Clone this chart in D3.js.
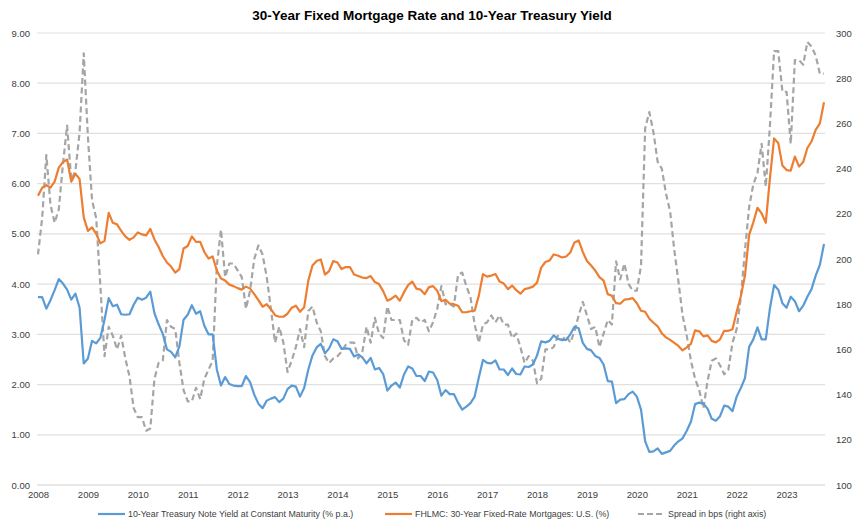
<!DOCTYPE html>
<html>
<head>
<meta charset="utf-8">
<script src="https://cdn.jsdelivr.net/npm/d3@7"></script>
<style>
  html, body { margin: 0; padding: 0; background: #fff; }
  text { font-family: "Liberation Sans", Arial, sans-serif; }
</style>
</head>
<body>
<svg id="chart" width="852" height="522"></svg>
<script>
// ---- Data (monthly, Jan 2008 – Oct 2023) ----
const startYear = 2008;
const yearLabels = ["2008","2009","2010","2011","2012","2013","2014","2015","2016","2017","2018","2019","2020","2021","2022","2023"];
const leftTicks = [0,1,2,3,4,5,6,7,8,9];
const rightTicks = [100,120,140,160,180,200,220,240,260,280,300];

const treasury10y = [
  3.74,3.74,3.51,3.68,3.88,4.10,4.01,3.89,3.69,3.81,3.53,2.42,
  2.52,2.87,2.82,2.93,3.29,3.72,3.56,3.59,3.40,3.39,3.40,3.59,
  3.73,3.69,3.73,3.85,3.42,3.20,3.01,2.70,2.65,2.54,2.76,3.29,
  3.39,3.58,3.41,3.46,3.17,3.00,3.00,2.30,1.98,2.15,2.01,1.98,
  1.97,1.97,2.17,2.05,1.80,1.62,1.53,1.68,1.72,1.75,1.65,1.72,
  1.91,1.98,1.96,1.76,1.93,2.30,2.58,2.74,2.81,2.62,2.72,2.90,
  2.86,2.71,2.72,2.71,2.56,2.60,2.54,2.42,2.53,2.30,2.33,2.21,
  1.88,1.98,2.04,1.94,2.20,2.36,2.32,2.17,2.17,2.07,2.26,2.24,
  2.09,1.78,1.89,1.81,1.81,1.64,1.50,1.56,1.63,1.76,2.14,2.49,
  2.43,2.42,2.48,2.30,2.30,2.19,2.32,2.21,2.20,2.36,2.35,2.40,
  2.58,2.86,2.84,2.87,2.98,2.91,2.89,2.89,3.00,3.15,3.12,2.83,
  2.71,2.68,2.57,2.53,2.40,2.07,2.06,1.63,1.70,1.71,1.81,1.86,
  1.76,1.50,0.87,0.66,0.67,0.73,0.62,0.65,0.68,0.79,0.87,0.93,
  1.08,1.26,1.61,1.64,1.62,1.52,1.32,1.28,1.37,1.58,1.56,1.47,
  1.76,1.93,2.13,2.75,2.90,3.14,2.90,2.90,3.52,3.98,3.89,3.62,
  3.53,3.75,3.66,3.46,3.57,3.75,3.90,4.17,4.38,4.80
];

const mortgage30y = [
  5.76,5.92,5.97,5.92,6.04,6.32,6.43,6.48,6.04,6.20,6.09,5.33,
  5.06,5.13,5.00,4.81,4.86,5.42,5.22,5.19,5.06,4.95,4.88,4.93,
  5.03,4.99,4.97,5.10,4.89,4.74,4.56,4.43,4.35,4.23,4.30,4.71,
  4.76,4.95,4.84,4.84,4.64,4.51,4.55,4.27,4.11,4.07,3.99,3.96,
  3.92,3.89,3.95,3.91,3.80,3.68,3.55,3.60,3.50,3.38,3.35,3.35,
  3.41,3.53,3.57,3.45,3.54,4.07,4.37,4.46,4.49,4.19,4.26,4.46,
  4.43,4.30,4.34,4.34,4.19,4.16,4.13,4.12,4.16,4.04,4.00,3.86,
  3.67,3.71,3.77,3.67,3.84,3.98,4.05,3.91,3.89,3.80,3.94,3.96,
  3.87,3.66,3.69,3.61,3.60,3.57,3.44,3.44,3.46,3.47,3.77,4.20,
  4.15,4.17,4.20,4.05,4.01,3.90,3.97,3.88,3.81,3.90,3.92,3.95,
  4.03,4.33,4.44,4.47,4.59,4.57,4.53,4.55,4.63,4.83,4.87,4.64,
  4.46,4.37,4.27,4.14,4.07,3.80,3.77,3.62,3.61,3.69,3.70,3.72,
  3.62,3.47,3.45,3.31,3.23,3.16,3.02,2.94,2.89,2.83,2.77,2.68,
  2.74,2.81,3.08,3.06,2.96,2.98,2.87,2.84,2.90,3.07,3.07,3.10,
  3.45,3.76,4.17,4.98,5.23,5.52,5.41,5.22,6.11,6.90,6.81,6.36,
  6.27,6.26,6.54,6.34,6.43,6.71,6.84,7.07,7.20,7.62
];

const spreadBps = [
  202,218,246,224,216,222,242,259,235,239,256,291,
  254,226,218,188,157,170,166,160,166,156,148,134,
  130,130,124,125,147,154,155,173,170,169,154,142,
  137,137,143,138,147,151,155,197,213,192,198,198,
  195,192,178,186,200,206,202,192,178,163,170,163,
  150,155,161,169,161,177,179,172,168,157,154,156,
  157,159,162,163,163,156,159,170,163,174,167,165,
  179,173,173,173,164,162,173,174,172,173,168,172,
  178,188,180,180,179,193,194,188,183,171,163,171,
  172,175,172,175,171,171,165,167,161,154,157,155,
  145,147,160,160,161,166,164,166,163,168,175,181,
  175,169,170,161,167,173,171,199,191,198,189,186,
  186,197,258,265,256,243,240,229,221,204,190,175,
  166,155,147,142,134,146,155,156,153,149,151,163,
  169,183,204,223,233,238,251,232,259,292,292,274,
  274,251,288,288,286,296,294,290,282,282
];

const seriesNames = [
  "10-Year Treasury Note Yield at Constant Maturity (% p.a.)",
  "FHLMC: 30-Year Fixed-Rate Mortgages: U.S. (%)",
  "Spread in bps (right axis)"
];
const colors = ["#5b9bd5", "#ed7d31", "#a5a5a5"];
const chartTitle = "30-Year Fixed Mortgage Rate and 10-Year Treasury Yield";

// ---- Layout ----
const svg = d3.select("#chart");
const W = 852, H = 522;
const plot = { left: 38, right: 824, top: 33, bottom: 485 };

const n = treasury10y.length;
const x = d3.scaleLinear().domain([0, n - 1]).range([plot.left, plot.left + (n - 1) * (786 / 189)]);
const yL = d3.scaleLinear().domain([0, 9]).range([plot.bottom, plot.top]);
const yR = d3.scaleLinear().domain([100, 300]).range([plot.bottom, plot.top]);

// Title
svg.append("text")
  .attr("x", 432).attr("y", 20)
  .attr("text-anchor", "middle")
  .attr("font-size", 13.5)
  .attr("font-weight", "bold")
  .attr("fill", "#000")
  .text(chartTitle);

// Gridlines
svg.append("g")
  .selectAll("line")
  .data(leftTicks)
  .join("line")
  .attr("x1", plot.left - 1).attr("x2", plot.right + 1)
  .attr("y1", d => yL(d)).attr("y2", d => yL(d))
  .attr("stroke", d => d === 0 ? "#d0d0d0" : "#e0e0e0")
  .attr("stroke-width", 1.2);

// Left axis
const leftAxis = d3.axisLeft(yL).tickValues(leftTicks).tickFormat(d3.format(".2f")).tickSize(0).tickPadding(8);
const gL = svg.append("g").attr("transform", `translate(${plot.left},0)`).call(leftAxis);
gL.select(".domain").remove();
gL.selectAll("text").attr("font-size", 9.5).attr("fill", "#404040").attr("font-family", "Liberation Sans, Arial, sans-serif");

// Right axis
const rightAxis = d3.axisRight(yR).tickValues(rightTicks).tickFormat(d3.format("d")).tickSize(0).tickPadding(12);
const gR = svg.append("g").attr("transform", `translate(${plot.right},0)`).call(rightAxis);
gR.select(".domain").remove();
gR.selectAll("text").attr("font-size", 9.5).attr("fill", "#404040").attr("font-family", "Liberation Sans, Arial, sans-serif");

// Bottom axis (year labels at January of each year)
const xTickIdx = yearLabels.map((d, i) => i * 12);
const bottomAxis = d3.axisBottom(x).tickValues(xTickIdx).tickFormat((d, i) => yearLabels[i]).tickSize(0).tickPadding(6);
const gB = svg.append("g").attr("transform", `translate(0,${plot.bottom})`).call(bottomAxis);
gB.select(".domain").remove();
gB.selectAll("text").attr("font-size", 9.5).attr("fill", "#404040").attr("font-family", "Liberation Sans, Arial, sans-serif");

// Lines
const lineL = d3.line().x((d, i) => x(i)).y(d => yL(d));
const lineR = d3.line().x((d, i) => x(i)).y(d => yR(d));

svg.append("path").datum(spreadBps)
  .attr("d", lineR).attr("fill", "none")
  .attr("stroke", colors[2]).attr("stroke-width", 2.2)
  .attr("stroke-dasharray", "6,3.5").attr("stroke-linejoin", "round");

svg.append("path").datum(treasury10y)
  .attr("d", lineL).attr("fill", "none")
  .attr("stroke", colors[0]).attr("stroke-width", 2.2).attr("stroke-linejoin", "round");

svg.append("path").datum(mortgage30y)
  .attr("d", lineL).attr("fill", "none")
  .attr("stroke", colors[1]).attr("stroke-width", 2.2).attr("stroke-linejoin", "round");

// Legend
const legendItems = [
  { name: seriesNames[0], color: colors[0], dash: null, x: 98 },
  { name: seriesNames[1], color: colors[1], dash: null, x: 385 },
  { name: seriesNames[2], color: colors[2], dash: "6,3", x: 638 }
];
const lg = svg.append("g").attr("transform", "translate(0,514)");
legendItems.forEach(it => {
  lg.append("line")
    .attr("x1", it.x).attr("x2", it.x + 27)
    .attr("y1", 0).attr("y2", 0)
    .attr("stroke", it.color).attr("stroke-width", 2.2)
    .attr("stroke-dasharray", it.dash);
  lg.append("text")
    .attr("x", it.x + 30).attr("y", 3.3)
    .attr("font-size", 8.85).attr("fill", "#404040")
    .text(it.name);
});
</script>
</body>
</html>
